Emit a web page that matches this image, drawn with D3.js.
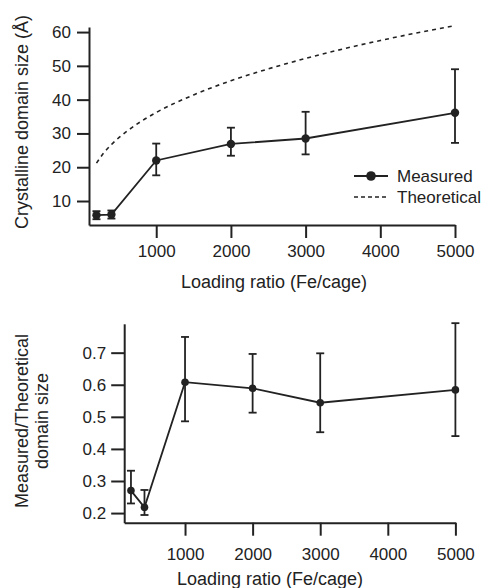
<!DOCTYPE html>
<html>
<head>
<meta charset="utf-8">
<script src="https://cdn.jsdelivr.net/npm/d3@7"></script>
<style>
  body { margin: 0; background: #fff; }
  svg { font-family: "Liberation Sans", Arial, sans-serif; }
  .axis path, .axis line { stroke: #222; stroke-width: 2; }
  .axis text { fill: #222; font-size: 17px; }
</style>
</head>
<body>
<div id="chart"></div>
<script>
// loading ratios (Fe/cage)
const loading = [200, 400, 1000, 2000, 3000, 5000];

// top panel: crystalline domain size (Å)
const measured = [5.8, 6.0, 22.0, 26.9, 28.5, 36.1];
const measuredLow = [4.6, 4.8, 17.6, 23.4, 23.8, 27.2];
const measuredHigh = [7.0, 7.2, 27.0, 31.7, 36.4, 49.0];

// theoretical curve
const theoLoading = [200, 300, 400, 600, 800, 1000, 1500, 2000, 2500, 3000, 3500, 4000, 4500, 5000];
const theoretical = [21.2, 24.3, 26.7, 30.5, 33.6, 36.2, 41.4, 45.6, 49.1, 52.2, 55.0, 57.5, 59.8, 61.9];

// bottom panel: measured / theoretical ratio
const ratio = [0.270, 0.218, 0.608, 0.589, 0.544, 0.584];
const ratioLow = [0.230, 0.194, 0.486, 0.513, 0.452, 0.440];
const ratioHigh = [0.332, 0.272, 0.749, 0.696, 0.698, 0.792];

const xTicks = [1000, 2000, 3000, 4000, 5000];
const topYTicks = [10, 20, 30, 40, 50, 60];
const botYTicks = [0.2, 0.3, 0.4, 0.5, 0.6, 0.7];

const width = 488, height = 588;
const ink = "#222";

const svg = d3.select("#chart").append("svg")
  .attr("width", width)
  .attr("height", height);

// ---------- top panel ----------
const xTop = d3.scaleLinear().domain([100, 5000]).range([89, 455]);
const yTop = d3.scaleLinear().domain([2.9, 61.5]).range([225, 27]);

svg.append("g")
  .attr("class", "axis")
  .attr("transform", "translate(0,225)")
  .call(d3.axisBottom(xTop).tickValues(xTicks).tickFormat(d3.format("d"))
    .tickSize(13).tickSizeOuter(0).tickPadding(7));

svg.append("g")
  .attr("class", "axis")
  .attr("transform", "translate(89,0)")
  .call(d3.axisLeft(yTop).tickValues(topYTicks).tickFormat(d3.format("d"))
    .tickSize(12).tickSizeOuter(0).tickPadding(6));

const theoData = theoLoading.map((d, i) => ({ x: d, y: theoretical[i] }));
svg.append("path")
  .datum(theoData)
  .attr("fill", "none")
  .attr("stroke", ink)
  .attr("stroke-width", 1.6)
  .attr("stroke-dasharray", "4,4")
  .attr("d", d3.line().x(d => xTop(d.x)).y(d => yTop(d.y)).curve(d3.curveMonotoneX));

const topData = loading.map((d, i) => ({
  x: d, y: measured[i], lo: measuredLow[i], hi: measuredHigh[i]
}));

function drawSeries(data, x, y, r) {
  const g = svg.append("g");
  const bars = g.selectAll(".err").data(data).enter().append("g")
    .attr("stroke", ink).attr("stroke-width", 1.8);
  bars.append("line")
    .attr("x1", d => x(d.x)).attr("x2", d => x(d.x))
    .attr("y1", d => y(d.lo)).attr("y2", d => y(d.hi));
  bars.append("line")
    .attr("x1", d => x(d.x) - 4).attr("x2", d => x(d.x) + 4)
    .attr("y1", d => y(d.lo)).attr("y2", d => y(d.lo));
  bars.append("line")
    .attr("x1", d => x(d.x) - 4).attr("x2", d => x(d.x) + 4)
    .attr("y1", d => y(d.hi)).attr("y2", d => y(d.hi));

  g.append("path")
    .datum(data)
    .attr("fill", "none")
    .attr("stroke", ink)
    .attr("stroke-width", 1.8)
    .attr("d", d3.line().x(d => x(d.x)).y(d => y(d.y)));

  g.selectAll(".dot").data(data).enter().append("circle")
    .attr("cx", d => x(d.x)).attr("cy", d => y(d.y))
    .attr("r", r).attr("fill", ink);
}

drawSeries(topData, xTop, yTop, 4.2);

// legend
const legend = svg.append("g").attr("font-size", 17).attr("fill", ink);
legend.append("line").attr("x1", 354).attr("x2", 388).attr("y1", 176).attr("y2", 176)
  .attr("stroke", ink).attr("stroke-width", 2);
legend.append("circle").attr("cx", 371).attr("cy", 176).attr("r", 4.8).attr("fill", ink);
legend.append("text").attr("x", 397).attr("y", 176).attr("dy", "0.35em").text("Measured");
legend.append("line").attr("x1", 354).attr("x2", 388).attr("y1", 197).attr("y2", 197)
  .attr("stroke", ink).attr("stroke-width", 1.6).attr("stroke-dasharray", "4,3");
legend.append("text").attr("x", 397).attr("y", 197).attr("dy", "0.35em").text("Theoretical");

svg.append("text")
  .attr("x", 274).attr("y", 288)
  .attr("text-anchor", "middle").attr("font-size", 18).attr("fill", ink)
  .text("Loading ratio (Fe/cage)");

svg.append("text")
  .attr("transform", "translate(28,122) rotate(-90)")
  .attr("text-anchor", "middle").attr("font-size", 18).attr("fill", ink)
  .text("Crystalline domain size (Å)");

// ---------- bottom panel ----------
const xBot = d3.scaleLinear().domain([100, 5000]).range([124.2, 455.4]);
const yBot = d3.scaleLinear().domain([0.17, 0.79]).range([522.7, 323.8]);

svg.append("g")
  .attr("class", "axis")
  .attr("transform", "translate(0,522.7)")
  .call(d3.axisBottom(xBot).tickValues(xTicks).tickFormat(d3.format("d"))
    .tickSize(13).tickSizeOuter(0).tickPadding(12));

svg.append("g")
  .attr("class", "axis")
  .attr("transform", "translate(124.2,0)")
  .call(d3.axisLeft(yBot).tickValues(botYTicks).tickFormat(d3.format(".1f"))
    .tickSize(13).tickSizeOuter(0).tickPadding(5));

const botData = loading.map((d, i) => ({
  x: d, y: ratio[i], lo: ratioLow[i], hi: ratioHigh[i]
}));
drawSeries(botData, xBot, yBot, 3.8);

svg.append("text")
  .attr("x", 270).attr("y", 585)
  .attr("text-anchor", "middle").attr("font-size", 18).attr("fill", ink)
  .text("Loading ratio (Fe/cage)");

const botTitle = svg.append("text")
  .attr("transform", "translate(28,421) rotate(-90)")
  .attr("text-anchor", "middle").attr("font-size", 18).attr("fill", ink);
botTitle.append("tspan").attr("x", 0).attr("dy", 0).text("Measured/Theoretical");
botTitle.append("tspan").attr("x", 0).attr("dy", 20).text("domain size");
</script>
</body>
</html>
